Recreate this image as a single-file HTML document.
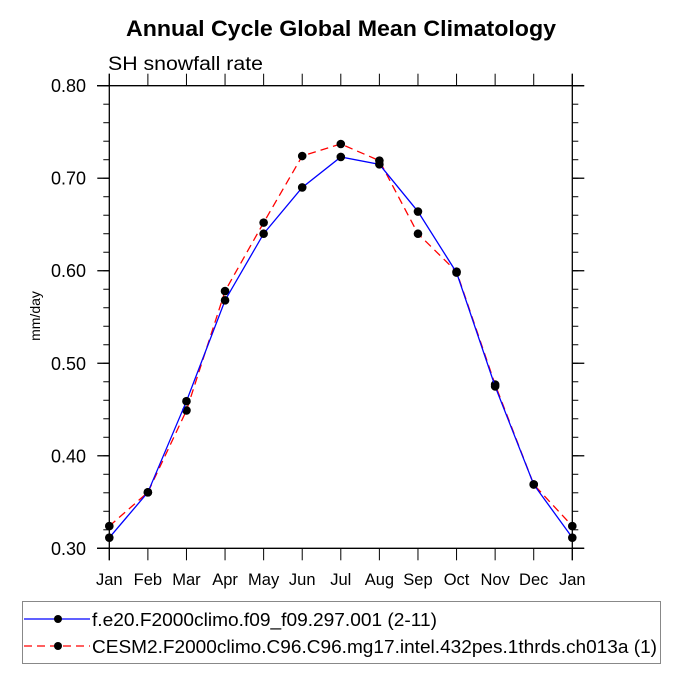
<!DOCTYPE html>
<html><head><meta charset="utf-8"><style>
body{margin:0;background:#fff;}
svg{display:block;font-family:"Liberation Sans",Arial,sans-serif;}
</style></head><body>
<svg id="c" width="682" height="682" xmlns="http://www.w3.org/2000/svg">
<text x="126" y="36" font-size="22" font-weight="bold" textLength="430" lengthAdjust="spacingAndGlyphs">Annual Cycle Global Mean Climatology</text>
<text x="108" y="70" font-size="19" textLength="155" lengthAdjust="spacingAndGlyphs">SH snowfall rate</text>
<text transform="translate(40,316) rotate(-90)" text-anchor="middle" font-size="14">mm/day</text>
<g id="axes"></g>
<g id="series"></g>
<g>
<rect x="22.5" y="601.5" width="638" height="62" fill="none" stroke="#888"/>
<g>
<line x1="24" y1="619" x2="90" y2="619" stroke="#00f" stroke-width="1.3"/>
<circle cx="58" cy="619" r="4" fill="#000"/>
<text x="92" y="626" font-size="18.5" textLength="345" lengthAdjust="spacingAndGlyphs">f.e20.F2000climo.f09_f09.297.001 (2-11)</text></g>
<g>
<line x1="24" y1="646" x2="90" y2="646" stroke="#f00" stroke-width="1.3" stroke-dasharray="8,5"/>
<circle cx="58" cy="646" r="4" fill="#000"/>
<text x="92" y="653" font-size="18.5" textLength="565" lengthAdjust="spacingAndGlyphs">CESM2.F2000climo.C96.C96.mg17.intel.432pes.1thrds.ch013a (1)</text></g>
</g>
</svg>
<script>
const months=["Jan","Feb","Mar","Apr","May","Jun","Jul","Aug","Sep","Oct","Nov","Dec","Jan"];
const yTicks=[0.30,0.40,0.50,0.60,0.70,0.80];
const yTickLabels=["0.30","0.40","0.50","0.60","0.70","0.80"];
const blueVals=[0.3115,0.3605,0.459,0.568,0.640,0.690,0.723,0.715,0.664,0.598,0.475,0.369,0.3115];
const redVals=[0.324,0.3605,0.449,0.578,0.652,0.724,0.737,0.719,0.640,0.599,0.477,0.369,0.324];
const NS="http://www.w3.org/2000/svg";
const X0=109.3,X1=572.3,Y0=548.3,Y1=85.7,YMIN=0.3,YMAX=0.8;
const xs=i=>X0+(X1-X0)*i/(months.length-1);
const ys=v=>Y0-(v-YMIN)/(YMAX-YMIN)*(Y0-Y1);
function mk(tag,attrs,parent){const e=document.createElementNS(NS,tag);for(const k in attrs)e.setAttribute(k,attrs[k]);parent.appendChild(e);return e;}
const ax=document.getElementById('axes');
let e;
e=mk('line',{x1:97,y1:Y1,x2:584,y2:Y1,stroke:'#000','stroke-width':1.3},ax);


e=mk('line',{x1:97,y1:Y0,x2:584,y2:Y0,stroke:'#000','stroke-width':1.3},ax);


e=mk('line',{x1:X0,y1:Y1-12,x2:X0,y2:Y0+12,stroke:'#000','stroke-width':1.3},ax);


e=mk('line',{x1:X1,y1:Y1-12,x2:X1,y2:Y0+12,stroke:'#000','stroke-width':1.3},ax);


months.forEach((m,i)=>{
  const x=xs(i);
  mk('line',{x1:x,y1:Y1-12,x2:x,y2:Y1,stroke:'#000','stroke-width':1},ax);
  mk('line',{x1:x,y1:Y0,x2:x,y2:Y0+12,stroke:'#000','stroke-width':1},ax);
  e=mk('text',{x:x,y:585,'text-anchor':'middle','font-size':16.5},ax);
  e.textContent=m;
  
  
});
for(let v=0.30;v<0.8001;v+=0.02){
  const y=ys(v);
  mk('line',{x1:X0-6,y1:y,x2:X0,y2:y,stroke:'#000','stroke-width':1},ax);
  mk('line',{x1:X1,y1:y,x2:X1+6,y2:y,stroke:'#000','stroke-width':1},ax);
}
yTicks.forEach((v,i)=>{
  const y=ys(v);
  mk('line',{x1:X0-12,y1:y,x2:X0,y2:y,stroke:'#000','stroke-width':1.3},ax);
  mk('line',{x1:X1,y1:y,x2:X1+12,y2:y,stroke:'#000','stroke-width':1.3},ax);
  e=mk('text',{x:86,y:y+6.5,'text-anchor':'end','font-size':18},ax);
  e.textContent=yTickLabels[i];
  
  
});
const sg=document.getElementById('series');
function series(vals,color,dash,name){
  const g=mk('g',{},sg);
  
  
  const pts=vals.map((v,i)=>xs(i)+','+ys(v)).join(' ');
  const a={points:pts,fill:'none',stroke:color,'stroke-width':1.3};
  if(dash)a['stroke-dasharray']=dash;
  e=mk('polyline',a,g);
  
  
  vals.forEach((v,i)=>{
    const c=mk('circle',{cx:xs(i),cy:ys(v),r:4.3,fill:'#000'},g);
    
    
  });
}
series(redVals,'#f00','8,5','series-cesm2');
series(blueVals,'#00f',null,'series-f-e20');
</script>
</body></html>
